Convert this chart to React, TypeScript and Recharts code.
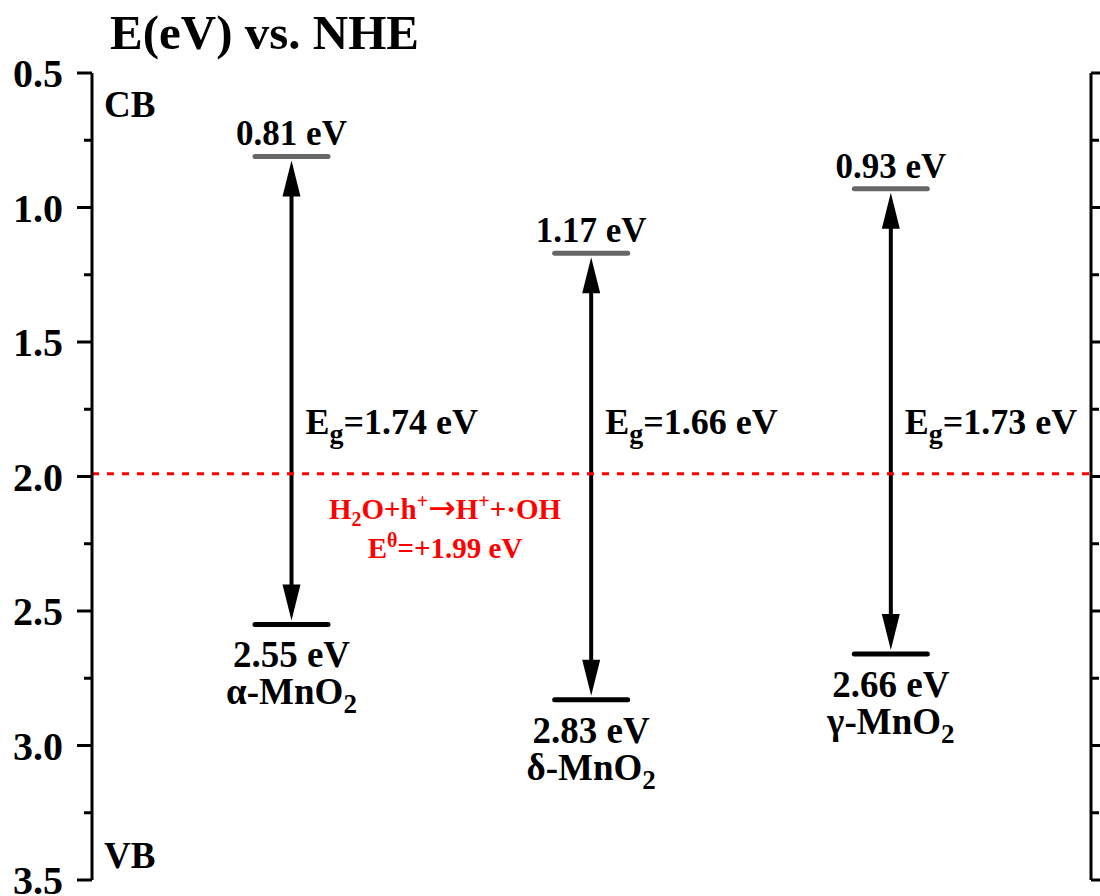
import React from "react";
import {
  ComposedChart,
  Bar,
  XAxis,
  YAxis,
  ReferenceLine,
  Customized,
} from "recharts";

const FONT = '"Liberation Serif", "Times New Roman", serif';

// band edges (eV vs. NHE) for each MnO2 polymorph
const phases = ["α", "δ", "γ"];
const cbEdges = [0.81, 1.17, 0.93];
const vbEdges = [2.55, 2.83, 2.66];

const yTicks = [
  0.5, 0.75, 1.0, 1.25, 1.5, 1.75, 2.0, 2.25, 2.5, 2.75, 3.0, 3.25, 3.5,
];

// H2O + h+ -> H+ + ·OH
const ohPotential = 1.99;

const data = phases.map((phase, i) => ({
  phase,
  cb: cbEdges[i],
  vb: vbEdges[i],
}));

const EG_LABEL_Y = 434;

const isMajor = (v: number) => Math.abs(v * 2 - Math.round(v * 2)) < 1e-6;

function LeftTick({ x, y, payload }: any) {
  const v = payload.value as number;
  const major = isMajor(v);
  return (
    <g>
      <line x1={x} x2={x - (major ? 15 : 8)} y1={y} y2={y} stroke="#000" strokeWidth={3} />
      {major && (
        <text
          x={x - 29}
          y={y}
          dy="0.35em"
          textAnchor="end"
          fontSize={40}
          fontWeight="bold"
          fontFamily={FONT}
          fill="#000"
        >
          {v.toFixed(1)}
        </text>
      )}
    </g>
  );
}

function RightTick({ x, y, payload }: any) {
  const major = isMajor(payload.value);
  return <line x1={x} x2={x + (major ? 15 : 8)} y1={y} y2={y} stroke="#000" strokeWidth={3} />;
}

function BandShape(props: any) {
  const { x, y, width, height, payload } = props;
  const top = Math.min(y, y + height);
  const bottom = Math.max(y, y + height);
  const cx = x + width / 2;
  const eg = (payload.vb - payload.cb).toFixed(2);
  const headLen = 36;
  const headHalf = 9;
  const gap = 4;
  const txt = { fontFamily: FONT, fontWeight: "bold" as const, fill: "#000" };
  return (
    <g>
      <line
        x1={cx}
        x2={cx}
        y1={top + gap + headLen - 2}
        y2={bottom - gap - headLen + 2}
        stroke="#000"
        strokeWidth={4}
      />
      <polygon
        points={`${cx},${top + gap} ${cx - headHalf},${top + gap + headLen} ${cx + headHalf},${top + gap + headLen}`}
        fill="#000"
      />
      <polygon
        points={`${cx},${bottom - gap} ${cx - headHalf},${bottom - gap - headLen} ${cx + headHalf},${bottom - gap - headLen}`}
        fill="#000"
      />
      <line x1={x} x2={x + width} y1={top} y2={top} stroke="#666" strokeWidth={5} strokeLinecap="round" />
      <line x1={x} x2={x + width} y1={bottom} y2={bottom} stroke="#000" strokeWidth={5} strokeLinecap="round" />
      <text x={cx} y={top - 11} textAnchor="middle" fontSize={35} {...txt}>
        {payload.cb.toFixed(2)} eV
      </text>
      <text x={cx} y={bottom + 43} textAnchor="middle" fontSize={37} {...txt}>
        {payload.vb.toFixed(2)} eV
      </text>
      <text x={cx} y={bottom + 80} textAnchor="middle" fontSize={37} {...txt}>
        {payload.phase}-MnO
        <tspan dy={9} fontSize={27}>2</tspan>
      </text>
      <text x={cx + 14} y={EG_LABEL_Y} fontSize={36} {...txt}>
        E
        <tspan dy={9} fontSize={28}>g</tspan>
        <tspan dy={-9}>={eg} eV</tspan>
      </text>
    </g>
  );
}

function OhLabel(props: any) {
  const { viewBox } = props;
  const cx = viewBox.x + 353;
  const y0 = viewBox.y;
  const txt = {
    fontFamily: FONT,
    fontWeight: "bold" as const,
    fill: "#ff0000",
    textAnchor: "middle" as const,
    fontSize: 29,
  };
  return (
    <g>
      <text x={cx} y={y0 + 45} {...txt}>
        H<tspan dy={7} fontSize={20}>2</tspan>
        <tspan dy={-7}>O+h</tspan>
        <tspan dy={-11} fontSize={20}>+</tspan>
        <tspan dy={11} fontFamily='"DejaVu Sans", sans-serif' fontWeight="normal" fontSize={33}>→</tspan>
        <tspan>H</tspan>
        <tspan dy={-11} fontSize={20}>+</tspan>
        <tspan dy={11}>+·OH</tspan>
      </text>
      <text x={cx} y={y0 + 84} {...txt}>
        E<tspan dy={-11} fontSize={20}>θ</tspan>
        <tspan dy={11}>=+{ohPotential.toFixed(2)} eV</tspan>
      </text>
    </g>
  );
}

function Annotations() {
  const txt = { fontFamily: FONT, fontWeight: "bold" as const, fill: "#000" };
  return (
    <g>
      <text x={110} y={49} fontSize={49} {...txt}>
        E(eV) vs. NHE
      </text>
      <text x={104} y={117} fontSize={37} {...txt}>
        CB
      </text>
      <text x={104} y={868} fontSize={37} {...txt}>
        VB
      </text>
    </g>
  );
}

export default function App() {
  return (
    <div style={{ position: "absolute", left: 0, top: 0, background: "#fff" }}>
      <ComposedChart
        width={1100}
        height={896}
        data={data}
        margin={{ top: 73, right: 0, bottom: 16, left: 0 }}
      >
        <XAxis dataKey="phase" type="category" hide padding={{ left: 50, right: 50 }} />
        <YAxis
          yAxisId="left"
          orientation="left"
          type="number"
          width={92}
          domain={[0.5, 3.5]}
          reversed
          allowDataOverflow
          ticks={yTicks}
          interval={0}
          tickSize={0}
          tickMargin={0}
          tickLine={false}
          axisLine={{ stroke: "#000", strokeWidth: 3 }}
          tick={<LeftTick />}
        />
        <YAxis
          yAxisId="right"
          orientation="right"
          type="number"
          width={9}
          domain={[0.5, 3.5]}
          reversed
          allowDataOverflow
          ticks={yTicks}
          interval={0}
          tickSize={0}
          tickMargin={0}
          tickLine={false}
          axisLine={{ stroke: "#000", strokeWidth: 3 }}
          tick={<RightTick />}
        />
        <ReferenceLine
          yAxisId="left"
          y={ohPotential}
          stroke="#ff0000"
          strokeWidth={3}
          strokeDasharray="7 8"
          label={(p: any) => <OhLabel {...p} />}
        />
        <Bar
          yAxisId="left"
          dataKey={(d: any) => [d.cb, d.vb]}
          barSize={73}
          shape={(p: any) => <BandShape {...p} />}
          isAnimationActive={false}
        />
        <Customized component={<Annotations />} />
      </ComposedChart>
    </div>
  );
}
